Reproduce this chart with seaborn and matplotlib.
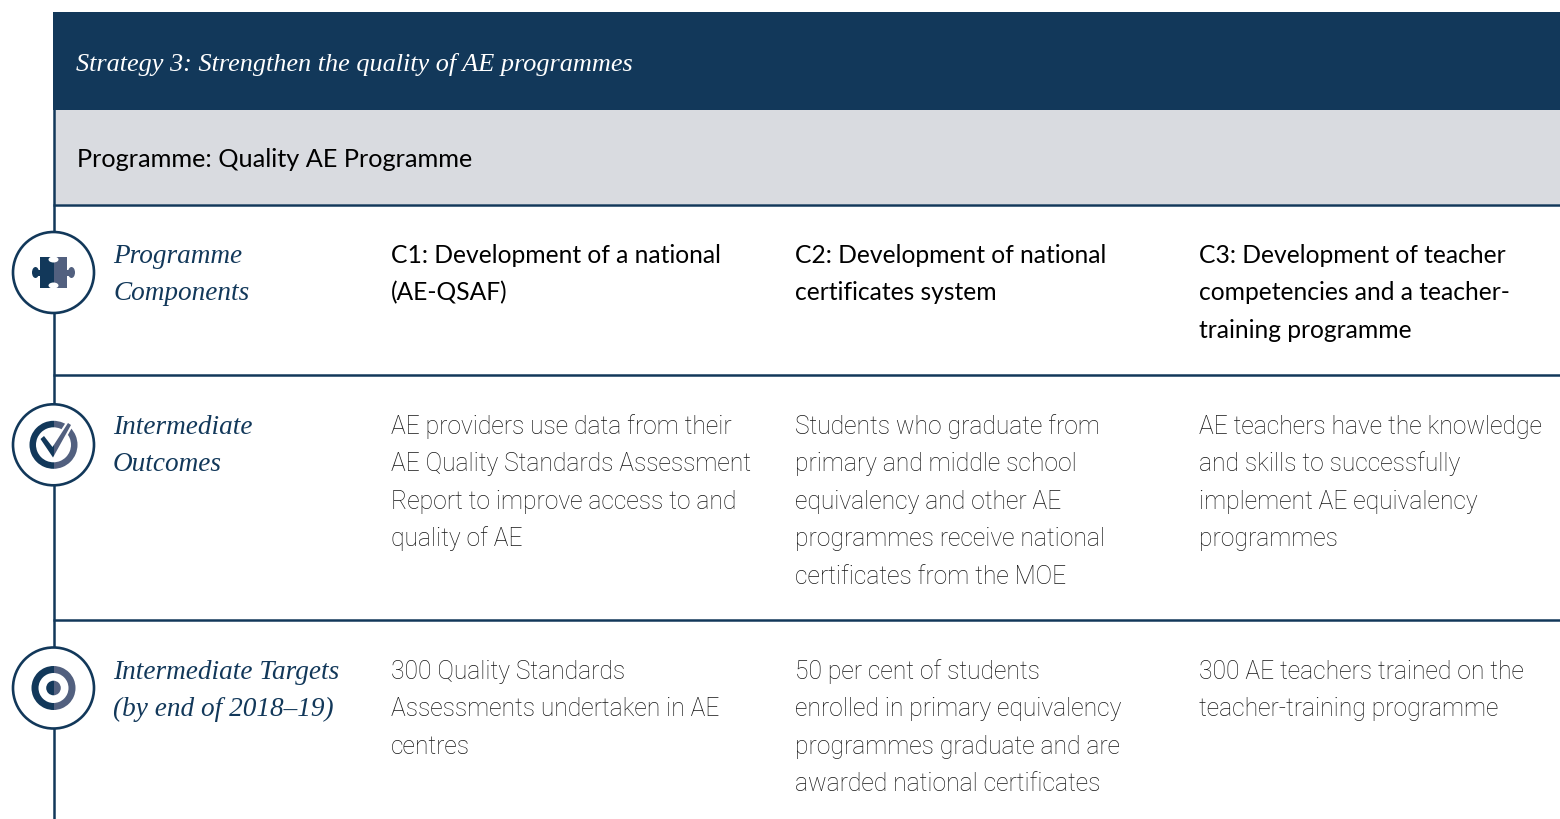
import matplotlib
matplotlib.use("Agg")
import matplotlib.pyplot as plt
from matplotlib.patches import Rectangle, Circle, Wedge, Ellipse, Polygon
import seaborn as sns

sns.set_theme(style="white")

DARK = "#12385a"
MID = "#52607f"
GREY = "#d9dbe0"
SANS = "Lato"
LIGHT = "Roboto"
SERIF = "Liberation Serif"

title = "Strategy 3: Strengthen the quality of AE programmes"
programme = "Programme: Quality AE Programme"
row_labels = [["Programme", "Components"],
              ["Intermediate", "Outcomes"],
              ["Intermediate Targets", "(by end of 2018–19)"]]
components = [["C1: Development of a national", "(AE-QSAF)"],
              ["C2: Development of national", "certificates system"],
              ["C3: Development of teacher", "competencies and a teacher-", "training programme"]]
outcomes = [["AE providers use data from their", "AE Quality Standards Assessment", "Report to improve access to and", "quality of AE"],
            ["Students who graduate from", "primary and middle school", "equivalency and other AE", "programmes receive national", "certificates from the MOE"],
            ["AE teachers have the knowledge", "and skills to successfully", "implement AE equivalency", "programmes"]]
targets = [["300 Quality Standards", "Assessments undertaken in AE", "centres"],
           ["50 per cent of students", "enrolled in primary equivalency", "programmes graduate and are", "awarded national certificates"],
           ["300 AE teachers trained on the", "teacher-training programme"]]

col_x = [391, 795, 1199]
row_base = [262, 433, 678]
row_rule = [205, 375, 620]
LEAD = 37.4

fig = plt.figure(figsize=(15.6, 8.2), dpi=100, facecolor="white")
ax = fig.add_axes([0, 0, 1, 1])
ax.set_xlim(0, 1560)
ax.set_ylim(819, -1)
ax.axis("off")

ax.add_patch(Rectangle((53, 12), 1507, 98, fc=DARK, ec="none", zorder=1))
ax.add_patch(Rectangle((55, 110), 1505, 94, fc=GREY, ec="none", zorder=1))
ax.plot([53.5, 53.5], [12, 820], color=DARK, lw=1.8, zorder=2, solid_capstyle="butt")
for y in row_rule:
    ax.plot([53, 1560], [y, y], color=DARK, lw=1.8, zorder=2, solid_capstyle="butt")

ax.text(76, 70, title, color="white", family=SERIF, style="italic", fontsize=18.9, va="baseline")
ax.text(77, 166, programme, color="black", family=SANS, fontsize=18.2, va="baseline")


def block(x, y, lines, **kw):
    for i, line in enumerate(lines):
        ax.text(x, y + i * LEAD, line, va="baseline", **kw)


for lab, y in zip(row_labels, row_base):
    block(113, y, lab, color=DARK, family=SERIF, style="italic", fontsize=19.6)
for x, c in zip(col_x, components):
    block(x, row_base[0], c, color="black", family=SANS, fontsize=17.7)
for x, c in zip(col_x, outcomes):
    block(x, row_base[1], c, color="#151515", family=LIGHT, weight="light", fontsize=17.7)
for x, c in zip(col_x, targets):
    block(x, row_base[2], c, color="#151515", family=LIGHT, weight="light", fontsize=17.7)

cx = 53.5
centers = [272.5, 444.8, 688]
for cy in centers:
    ax.add_patch(Circle((cx, cy), 40.5, fc="white", ec=DARK, lw=1.9, zorder=3))


def half(patch_fn):
    """Draw a shape in the dark tone on its left half, mid tone on its right."""
    for color, x0 in ((DARK, cx - 60), (MID, cx)):
        clip = Rectangle((x0, 0), 60, 820, transform=ax.transData)
        p = patch_fn(color)
        ax.add_patch(p)
        p.set_clip_path(clip)


# puzzle icon
cy = centers[0]
half(lambda c: Rectangle((40, 257), 27, 31, fc=c, ec="none", zorder=4))
half(lambda c: Rectangle((35, cy - 3), 37, 6, fc=c, ec="none", zorder=4))
half(lambda c: Ellipse((35.5, cy), 7, 11, fc=c, ec="none", zorder=4))
half(lambda c: Ellipse((71.5, cy), 7, 11, fc=c, ec="none", zorder=4))
ax.add_patch(Ellipse((cx, 259.5), 10, 6, fc="white", ec="none", zorder=5))
ax.add_patch(Ellipse((cx, 285.5), 10, 6, fc="white", ec="none", zorder=5))
ax.add_patch(Rectangle((cx - 2.5, 256), 5, 3, fc="white", ec="none", zorder=5))
ax.add_patch(Rectangle((cx - 2.5, 286), 5, 3, fc="white", ec="none", zorder=5))

# check icon
cy = centers[1]
half(lambda c: Wedge((cx, cy), 24, 0, 360, width=6.5, fc=c, ec="none", zorder=4))
tick = [(40.5, 439), (44, 436), (52.5, 447), (68, 423), (71, 425), (53, 457.5)]
ax.add_patch(Polygon(tick, closed=True, fc="white", ec="white", lw=3, zorder=4.5))
half(lambda c: Polygon(tick, closed=True, fc=c, ec="none", zorder=5))

# target icon
cy = centers[2]
half(lambda c: Wedge((cx, cy), 22, 0, 360, width=7, fc=c, ec="none", zorder=4))
half(lambda c: Circle((cx, cy), 7.3, fc=c, ec="none", zorder=4))

fig.savefig("out.png", dpi=100, facecolor="white")
